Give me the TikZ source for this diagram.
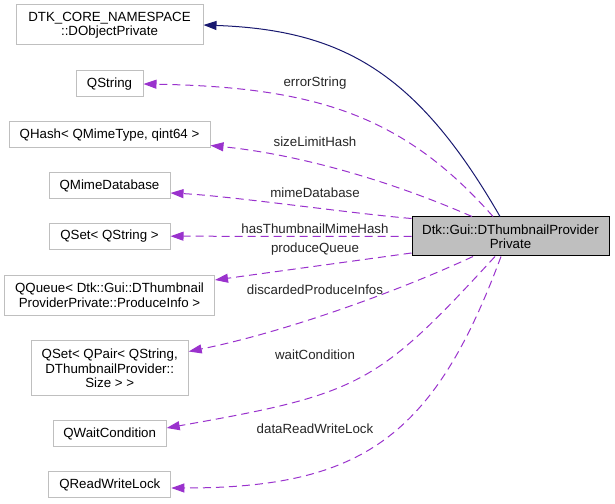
\documentclass[tikz,border=0pt]{standalone}
\usepackage{fontspec}
\setmainfont{Liberation Sans}
\usepackage{tikz}
\usetikzlibrary{arrows.meta}
\usetikzlibrary{calc}

\definecolor{edgenavy}{HTML}{191970}
\definecolor{edgepurple}{HTML}{9A32CD}
\definecolor{boxgray}{HTML}{BFBFBF}

\tikzset{
	member/.style={draw=boxgray,line width=1pt,inner sep=0pt,align=center,minimum height=26pt},
	current/.style={draw=black,fill=boxgray,line width=1pt,inner sep=0pt,align=center},
	inherit/.style={edgenavy,line width=1pt,-{Triangle[length=13pt,width=9pt]}},
	usage/.style={edgepurple,line width=1pt,dash pattern=on 8pt off 5pt,-{Triangle[length=13pt,width=9pt]}},
	edgelabel/.style={inner sep=0pt,text=black!85}
}

\begin{document}
\begin{tikzpicture}[x=1pt,y=1pt,font=\fontsize{13.3}{14.5}\selectfont]
	\useasboundingbox (0,0) rectangle (615,503);
	
	\node[member,minimum width=187pt,minimum height=40pt] (dobject) at (109.5,478) {DTK\_CORE\_NAMESPACE\\::DObjectPrivate};
	\node[member,minimum width=67pt] (qstring) at (109.5,419) {QString};
	\node[member,minimum width=201pt] (qhash) at (109.5,368) {QHash< QMimeType, qint64 >};
	\node[member,minimum width=121pt] (qmimedb) at (109.5,317.5) {QMimeDatabase};
	\node[member,minimum width=121pt] (qsetstr) at (109.5,266.8) {QSet< QString >};
	\node[member,minimum width=210pt,minimum height=40pt] (qqueue) at (109.5,207.7) {QQueue< Dtk::Gui::DThumbnail\\ProviderPrivate::ProduceInfo >};
	\node[member,minimum width=157pt,minimum height=55pt] (qsetpair) at (109.7,134.5) {QSet< QPair< QString,\\DThumbnailProvider::\\Size > >};
	\node[member,minimum width=113pt] (qwait) at (109.7,69.2) {QWaitCondition};
	\node[member,minimum width=122pt] (qrwlock) at (109.8,18.5) {QReadWriteLock};
	
	\node[current,minimum width=197pt,minimum height=39pt] (main) at (510.5,266.5) {Dtk::Gui::DThumbnailProvider\\Private};
	
	% base class
	\draw[inherit] ([xshift=-10.5pt]main.north) .. controls +(-83,144) and +(139,-5) .. (dobject.east);
	
	% members
	\draw[usage] ([xshift=-17.5pt]main.north) .. controls +(-88.5,100) and +(174,-3) .. (qstring.east);
	\draw[usage] ([xshift=-38.5pt]main.north) .. controls +(-92,40) and +(80,-8) .. ([yshift=-10.5pt]qhash.east);
	\draw[usage] ([yshift=-2pt]main.north west) .. controls +(-60,5) and +(60,-3) .. ([yshift=-7.5pt]qmimedb.east);
	\draw[usage] (main.west) -- (qsetstr.east);
	\draw[usage] ([yshift=-16.5pt]main.west) -- ([yshift=15.3pt]qqueue.east);
	\draw[usage] ([xshift=-37.5pt]main.south) .. controls +(-82,-38) and +(90,18) .. ([yshift=17pt]qsetpair.east);
	\draw[usage] ([xshift=-15.5pt]main.south) .. controls +(-118,-128.5) and +(193.6,34.2) .. ([yshift=5.8pt]qwait.east);
	\draw[usage] ([xshift=-9.5pt]main.south) .. controls +(-67,-181) and +(190,0) .. ([yshift=-3.5pt]qrwlock.east);
	
	\node[edgelabel] (lblerror) at (315,420.3) {errorString};
	\node[edgelabel] (lblsize) at (315,361.3) {sizeLimitHash};
	\node[edgelabel] (lblmime) at (315,310.3) {mimeDatabase};
	\node[edgelabel] (lblhas) at (315,274.7) {hasThumbnailMimeHash};
	\node[edgelabel] (lblqueue) at (315,254) {produceQueue};
	\node[edgelabel] (lbldiscard) at (315,213.7) {discardedProduceInfos};
	\node[edgelabel] (lblwait) at (315,148.7) {waitCondition};
	\node[edgelabel] (lbllock) at (315,74.7) {dataReadWriteLock};
\end{tikzpicture}
\end{document}
